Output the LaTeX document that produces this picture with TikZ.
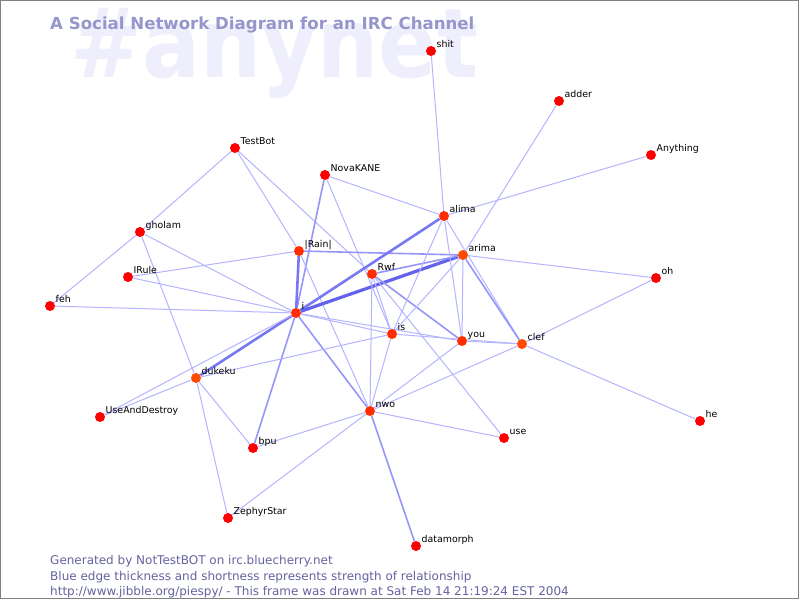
\documentclass[tikz,border=0pt]{standalone}
\usepackage{fontspec}
\setmainfont{DejaVu Sans}
\usetikzlibrary{calc}
\definecolor{wmcol}{RGB}{238,238,252}
\definecolor{ttlcol}{RGB}{150,150,204}
\definecolor{footcol}{RGB}{100,100,160}
\definecolor{framecol}{RGB}{128,128,128}
\definecolor{nodeA}{RGB}{255,0,0}
\definecolor{nodeB}{RGB}{255,45,0}
\definecolor{nodeC}{RGB}{255,75,0}
\definecolor{eThin}{RGB}{180,180,255}
\definecolor{eMed}{RGB}{150,150,250}
\definecolor{eThick}{RGB}{120,120,242}
\definecolor{eMax}{RGB}{98,98,236}
\pgfdeclarelayer{wmlayer}
\pgfdeclarelayer{edgelayer}
\pgfsetlayers{wmlayer,edgelayer,main}
\tikzset{
  vx/.style={circle,inner sep=0pt,minimum size=10pt,fill=#1,draw=none},
  vx/.default=nodeA,
  lbl/.style={anchor=base west,inner sep=0pt,font=\fontsize{9.4}{10}\selectfont,text=black},
  ethin/.style={draw=eThin,line width=1pt},
  emed/.style={draw=eMed,line width=1.6pt},
  ethick/.style={draw=eThick,line width=2.6pt},
  emax/.style={draw=eMax,line width=3.2pt},
  foottxt/.style={anchor=base west,inner sep=0pt,text=footcol,font=\fontsize{12}{13}\selectfont}
}
\newcommand\vtx[5]{%
  \node[vx=#5] (#1) at (#2,#3) {};
  \node[lbl] (#1-l) at ($(#1)+(5.5,-4)$) {#4};}
\begin{document}
\begin{tikzpicture}[x=1pt,y=-1pt]
\useasboundingbox (0,0) rectangle (800,600);

\begin{pgfonlayer}{wmlayer}
\fill[white] (0,0) rectangle (800,600);
\node[anchor=base west,inner sep=0pt,text=wmcol,font=\bfseries\fontsize{86}{90}\selectfont] (wmark) at (70,77) {\scalebox{1}[1.12]{\#anynet}};
\node[anchor=base west,inner sep=0pt,text=ttlcol,font=\bfseries\fontsize{16.6}{18}\selectfont] (title) at (50,29) {A Social Network Diagram for an IRC Channel};
\end{pgfonlayer}

\draw[framecol,line width=1pt] (0.5,0.5) rectangle (798.5,598.5);

% nodes
\vtx{shit}{431}{51}{shit}{nodeA}
\vtx{adder}{559}{101}{adder}{nodeA}
\vtx{Anything}{651}{155}{Anything}{nodeA}
\vtx{TestBot}{235}{148}{TestBot}{nodeA}
\vtx{NovaKANE}{325}{175}{NovaKANE}{nodeA}
\vtx{alima}{444}{216}{alima}{nodeB}
\vtx{gholam}{140}{232}{gholam}{nodeA}
\vtx{Rain}{299}{251}{|Rain|}{nodeB}
\vtx{arima}{463}{255}{arima}{nodeC}
\vtx{IRule}{128}{277}{IRule}{nodeA}
\vtx{Rwf}{372}{274}{Rwf}{nodeB}
\vtx{oh}{656}{278}{oh}{nodeA}
\vtx{feh}{50}{306}{feh}{nodeA}
\vtx{nI}{296}{313}{i}{nodeB}
\vtx{is}{392}{334}{is}{nodeB}
\vtx{you}{462}{341}{you}{nodeB}
\vtx{clef}{522}{344}{clef}{nodeC}
\vtx{dukeku}{196}{378}{dukeku}{nodeC}
\vtx{UseAndDestroy}{100}{417}{UseAndDestroy}{nodeA}
\vtx{nwo}{370}{411}{nwo}{nodeB}
\vtx{he}{700}{421}{he}{nodeA}
\vtx{use}{504}{438}{use}{nodeA}
\vtx{bpu}{253}{448}{bpu}{nodeA}
\vtx{ZephyrStar}{228}{518}{ZephyrStar}{nodeA}
\vtx{datamorph}{416}{546}{datamorph}{nodeA}

\begin{pgfonlayer}{edgelayer}
\draw[ethin] (shit) -- (alima);
\draw[ethin] (adder) -- (arima);
\draw[ethin] (Anything) -- (alima);
\draw[ethin] (TestBot) -- (gholam);
\draw[ethin] (TestBot) -- (Rain);
\draw[ethin] (TestBot) -- (Rwf);
\draw[ethin] (NovaKANE) -- (alima);
\draw[emed] (NovaKANE) -- (nI);
\draw[ethin] (NovaKANE) -- (is);
\draw[ethin] (gholam) -- (feh);
\draw[ethin] (gholam) -- (nI);
\draw[ethin] (gholam) -- (dukeku);
\draw[ethin] (IRule) -- (Rain);
\draw[ethin] (IRule) -- (nI);
\draw[ethin] (feh) -- (nI);
\draw[ethick] (Rain) -- (nI);
\draw[emed] (Rain) -- (arima);
\draw[ethin] (Rain) -- (nwo);
\draw[ethick] (nI) -- (alima);
\draw[emax] (nI) -- (arima);
\draw[ethick] (nI) -- (dukeku);
\draw[ethin] (nI) -- (UseAndDestroy);
\draw[emed] (nI) -- (bpu);
\draw[emed] (nI) -- (nwo);
\draw[ethin] (nI) -- (is);
\draw[ethin] (nI) -- (you);
\draw[emed] (Rwf) -- (arima);
\draw[ethin] (Rwf) -- (is);
\draw[emed] (Rwf) -- (you);
\draw[ethin] (Rwf) -- (nwo);
\draw[ethin] (Rwf) -- (use);
\draw[ethin] (alima) -- (is);
\draw[ethin] (alima) -- (you);
\draw[ethin] (alima) -- (clef);
\draw[ethin] (arima) -- (is);
\draw[ethin] (arima) -- (you);
\draw[emed] (arima) -- (clef);
\draw[ethin] (arima) -- (oh);
\draw[ethin] (is) -- (clef);
\draw[ethin] (is) -- (nwo);
\draw[ethin] (is) -- (dukeku);
\draw[ethin] (you) -- (clef);
\draw[ethin] (you) -- (nwo);
\draw[ethin] (clef) -- (nwo);
\draw[ethin] (clef) -- (oh);
\draw[ethin] (clef) -- (he);
\draw[ethin] (nwo) -- (use);
\draw[ethin] (nwo) -- (bpu);
\draw[ethin] (nwo) -- (ZephyrStar);
\draw[emed] (nwo) -- (datamorph);
\draw[ethin] (dukeku) -- (UseAndDestroy);
\draw[ethin] (dukeku) -- (bpu);
\draw[ethin] (dukeku) -- (ZephyrStar);
\end{pgfonlayer}

\node[foottxt] (f1) at (50,564) {Generated by NotTestBOT on irc.bluecherry.net};
\node[foottxt] (f2) at (50,580) {Blue edge thickness and shortness represents strength of relationship};
\node[foottxt] (f3) at (50,595) {http://www.jibble.org/piespy/ - This frame was drawn at Sat Feb 14 21:19:24 EST 2004};
\end{tikzpicture}
\end{document}
